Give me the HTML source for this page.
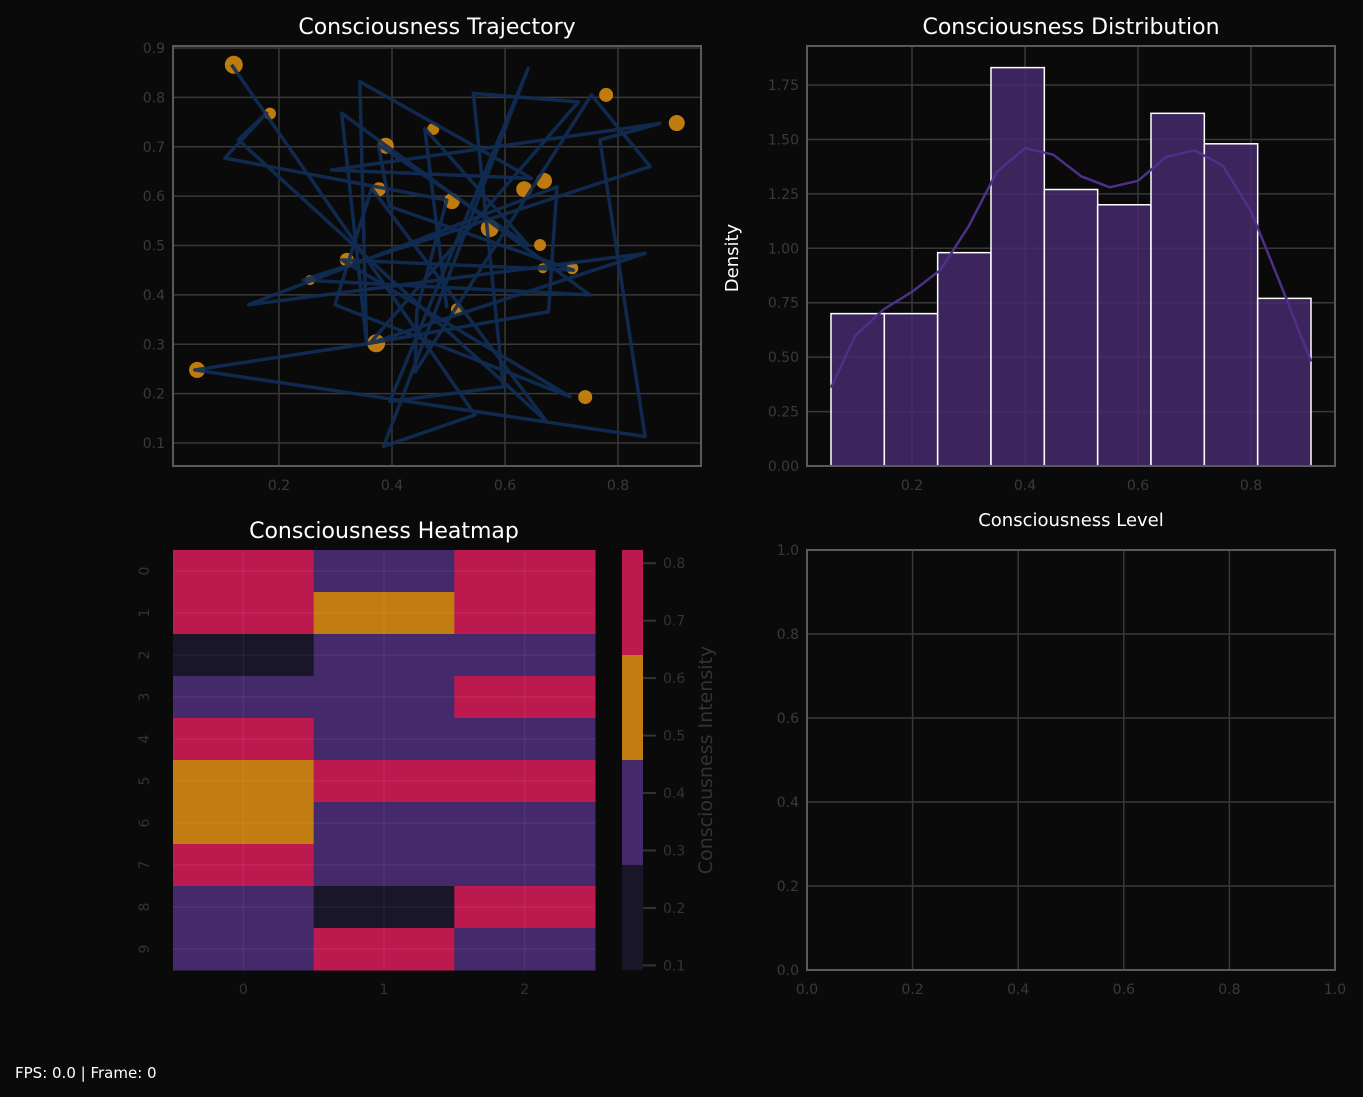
<!DOCTYPE html>
<html><head><meta charset="utf-8"><style>
html,body{margin:0;padding:0;background:#0a0a0a;}
svg{display:block;font-family:"DejaVu Sans","Liberation Sans",sans-serif;}
</style></head><body>
<svg id="s" width="1363" height="1097" viewBox="0 0 1363 1097">
<rect width="1363" height="1097" fill="#0a0a0a"/>
<text x="437" y="34" fill="#fff" font-size="22" text-anchor="middle">Consciousness Trajectory</text>
<text x="1071" y="34" fill="#fff" font-size="22" text-anchor="middle">Consciousness Distribution</text>
<text x="384" y="538" fill="#fff" font-size="22" text-anchor="middle">Consciousness Heatmap</text>
<text x="1071" y="526" fill="#fff" font-size="18" text-anchor="middle">Consciousness Level</text>
<text transform="translate(738,258) rotate(-90)" fill="#fff" font-size="18" text-anchor="middle">Density</text>
<text transform="translate(712,760) rotate(-90)" fill="#333" font-size="19" text-anchor="middle">Consciousness Intensity</text>
<text x="15" y="1078" fill="#fff" font-size="15">FPS: 0.0 | Frame: 0</text>
<g id="g1"></g><g id="g2"></g><g id="g3"></g><g id="g4"></g>
</svg>
<script>
// ---- trajectory data ----
const pathX=[.116,.547,.385,.641,.396,.597,.544,.730,.361,.848,.146,.692,.677,.361,.051,.848,.768,.874,.293,.647,.343,.355,.311,.750,.243,.857,.753,.441,.444,.497,.104,.178,.128,.674,.364,.299,.715,.311,.721,.396,.376,.641,.458,.497];
const pathY=[.866,.157,.093,.859,.184,.214,.808,.791,.302,.484,.380,.619,.366,.302,.248,.113,.714,.747,.653,.636,.832,.302,.768,.400,.430,.660,.805,.244,.369,.592,.677,.768,.714,.143,.616,.380,.194,.471,.450,.579,.704,.501,.737,.373];
const ptX=[.120,.184,.389,.377,.473,.506,.573,.634,.669,.662,.667,.719,.779,.904,.742,.515,.372,.320,.255,.055];
const ptY=[.866,.767,.702,.614,.736,.590,.535,.614,.631,.501,.454,.454,.805,.748,.193,.371,.302,.471,.430,.248];
const ptS=[9,6,8,7,6,8,9,8,8,6,5,6,7,8,7,6,9,7,5,8];
const trajXTicks=[0.2,0.4,0.6,0.8];
const trajYTicks=[0.1,0.2,0.3,0.4,0.5,0.6,0.7,0.8,0.9];
// ---- histogram data ----
const binEdges=[0.0566,0.151,0.2454,0.3398,0.4342,0.5286,0.623,0.7174,0.8118,0.9062];
const densities=[0.70,0.70,0.98,1.83,1.27,1.20,1.62,1.48,0.77];
const kdeX=[.0566,.1,.15,.2,.25,.3,.35,.4,.45,.5,.55,.6,.65,.7,.75,.8,.85,.9062];
const kdeY=[.36,.6,.72,.8,.9,1.1,1.35,1.46,1.43,1.33,1.28,1.31,1.42,1.45,1.38,1.17,.85,.48];
const histXTicks=[0.2,0.4,0.6,0.8];
const histYTicks=[0,0.25,0.5,0.75,1.0,1.25,1.5,1.75];
// ---- heatmap data ----
const heat=[[.75,.37,.75],[.75,.55,.75],[.15,.37,.37],[.37,.37,.75],[.75,.37,.37],[.55,.75,.75],[.55,.37,.37],[.75,.37,.37],[.37,.15,.75],[.37,.75,.37]];
const cbTicks=[0.1,0.2,0.3,0.4,0.5,0.6,0.7,0.8];
const cbMin=0.092,cbMax=0.823;
const cbColors=['#181627','#452a6b','#c27c12','#bc1a4f'];
const emptyTicks=[0,0.2,0.4,0.6,0.8,1.0];

const NS='http://www.w3.org/2000/svg';
function mk(p,t,a){const e=document.createElementNS(NS,t);for(const k in a)e.setAttribute(k,a[k]);p.appendChild(e);return e;}
function fmt(v,d){return v.toFixed(d);}
const TICK='#3a3a3a';

// ---- panel 1 ----
(function(){
const g=document.getElementById('g1');
const L=173,R=701,T=46,B=466;
const sx=v=>166+v*565, sy=v=>48+(0.9-v)*493.75;
mk(g,'rect',{x:L,y:T,width:R-L,height:B-T,fill:'#0a0a0a'});
trajXTicks.forEach(t=>{const l=mk(g,'line',{x1:sx(t),x2:sx(t),y1:T,y2:B,stroke:'#383838','stroke-width':1.5});

const tx=mk(g,'text',{x:sx(t),y:B+24,fill:TICK,'font-size':14,'text-anchor':'middle'});tx.textContent=fmt(t,1);
});
trajYTicks.forEach(t=>{mk(g,'line',{x1:L,x2:R,y1:sy(t),y2:sy(t),stroke:'#383838','stroke-width':1.5});
const tx=mk(g,'text',{x:L-8,y:sy(t)+5,fill:TICK,'font-size':14,'text-anchor':'end'});tx.textContent=fmt(t,1);
});
ptX.forEach((x,i)=>{const c=mk(g,'circle',{cx:sx(x),cy:sy(ptY[i]),r:ptS[i],fill:'#d4870f','fill-opacity':0.9});
});
const pl=mk(g,'polyline',{points:pathX.map((x,i)=>sx(x)+','+sy(pathY[i])).join(' '),fill:'none',stroke:'#0f2d55','stroke-width':3.5,'stroke-opacity':0.9,'stroke-linejoin':'round'});

const f=mk(g,'rect',{x:L,y:T,width:R-L,height:B-T,fill:'none',stroke:'#5a5a5a','stroke-width':2});

})();

// ---- panel 2 ----
(function(){
const g=document.getElementById('g2');
const L=807,R=1335,T=46,B=466;
const sx=v=>799+v*565, sy=v=>466-v*217.7;
histXTicks.forEach(t=>{mk(g,'line',{x1:sx(t),x2:sx(t),y1:T,y2:B,stroke:'#383838','stroke-width':1.5});
const tx=mk(g,'text',{x:sx(t),y:B+24,fill:TICK,'font-size':14,'text-anchor':'middle'});tx.textContent=fmt(t,1);
});
histYTicks.forEach(t=>{mk(g,'line',{x1:L,x2:R,y1:sy(t),y2:sy(t),stroke:'#383838','stroke-width':1.5});
const tx=mk(g,'text',{x:L-8,y:sy(t)+5,fill:TICK,'font-size':14,'text-anchor':'end'});tx.textContent=fmt(t,2);
});
densities.forEach((d,i)=>{const r=mk(g,'rect',{x:sx(binEdges[i]),y:sy(d),width:sx(binEdges[i+1])-sx(binEdges[i]),height:sy(0)-sy(d),fill:'#452a6b','fill-opacity':0.85,stroke:'#fff','stroke-width':1.5});
});
const k=mk(g,'polyline',{points:kdeX.map((x,i)=>sx(x)+','+sy(kdeY[i])).join(' '),fill:'none',stroke:'#4e2f8a','stroke-width':2.5,'stroke-linejoin':'round'});

mk(g,'rect',{x:L,y:T,width:R-L,height:B-T,fill:'none',stroke:'#5a5a5a','stroke-width':2});
})();

// ---- panel 3 ----
(function(){
const g=document.getElementById('g3');
const L=173,R=595,T=550,B=970;
const cw=(R-L)/3,ch=(B-T)/10;
function col(v){const i=Math.min(3,Math.max(0,Math.floor((v-cbMin)/(cbMax-cbMin)*4)));return cbColors[i];}
heat.forEach((row,r)=>row.forEach((v,c)=>{const e=mk(g,'rect',{x:L+c*cw,y:T+r*ch,width:cw+0.5,height:ch+0.5,fill:col(v)});
}));
for(let c=0;c<3;c++){mk(g,'line',{x1:L+(c+.5)*cw,x2:L+(c+.5)*cw,y1:T,y2:B,stroke:'#fff','stroke-opacity':0.08});
const t=mk(g,'text',{x:L+(c+.5)*cw,y:B+24,fill:'#333','font-size':14,'text-anchor':'middle'});t.textContent=c;
}
for(let r=0;r<10;r++){const y=T+(r+.5)*ch;mk(g,'line',{x1:L,x2:R,y1:y,y2:y,stroke:'#fff','stroke-opacity':0.08});
const t=mk(g,'text',{transform:`translate(${L-24},${y}) rotate(-90)`,fill:'#333','font-size':14,'text-anchor':'middle'});t.textContent=r;
}
const cx=622,cwid=21,cy=v=>970-(v-cbMin)/(cbMax-cbMin)*420;
cbColors.forEach((c,i)=>{const v0=cbMin+(cbMax-cbMin)*i/4,v1=cbMin+(cbMax-cbMin)*(i+1)/4;
const e=mk(g,'rect',{x:cx,y:cy(v1),width:cwid,height:cy(v0)-cy(v1),fill:c});
});
cbTicks.forEach(t=>{mk(g,'line',{x1:cx+cwid,x2:cx+cwid+13,y1:cy(t),y2:cy(t),stroke:'#333','stroke-width':2});
const e=mk(g,'text',{x:cx+cwid+20,y:cy(t)+5,fill:'#333','font-size':14});e.textContent=fmt(t,1);
});
})();

// ---- panel 4 ----
(function(){
const g=document.getElementById('g4');
const L=807,R=1335,T=550,B=970;
const sx=v=>L+v*(R-L), sy=v=>B-v*(B-T);
emptyTicks.forEach(t=>{mk(g,'line',{x1:sx(t),x2:sx(t),y1:T,y2:B,stroke:'#383838','stroke-width':1.5});
mk(g,'line',{x1:L,x2:R,y1:sy(t),y2:sy(t),stroke:'#383838','stroke-width':1.5});
const a=mk(g,'text',{x:sx(t),y:B+24,fill:TICK,'font-size':14,'text-anchor':'middle'});a.textContent=fmt(t,1);

const b=mk(g,'text',{x:L-8,y:sy(t)+5,fill:TICK,'font-size':14,'text-anchor':'end'});b.textContent=fmt(t,1);
});
const f=mk(g,'rect',{x:L,y:T,width:R-L,height:B-T,fill:'none',stroke:'#5a5a5a','stroke-width':2});

})();
</script>
</body></html>
